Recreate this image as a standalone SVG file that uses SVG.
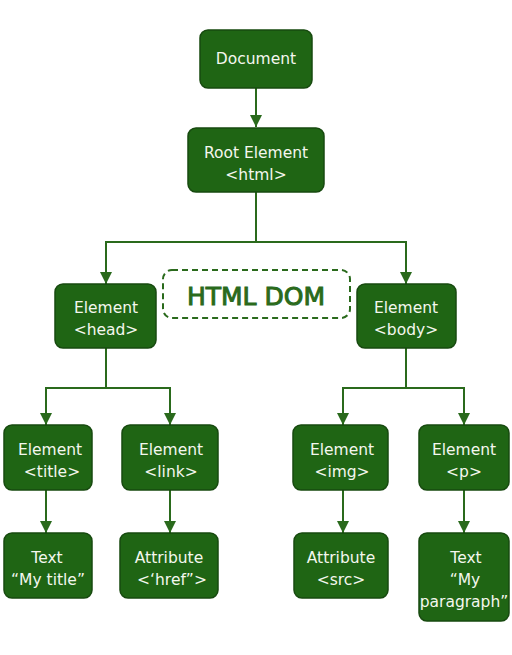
<svg xmlns="http://www.w3.org/2000/svg" width="512" height="655" viewBox="0 0 512 655">
<style>
.n rect{fill:#1f6514;stroke:#17490f;stroke-width:1.5}
.n text{fill:#f4f7ee;font-family:"DejaVu Sans",Verdana,sans-serif;font-size:15.5px;text-anchor:middle}
.c{fill:none;stroke:#2a6a1c;stroke-width:2}
</style>
<defs>
<marker id="ah" viewBox="0 0 10 10" refX="10" refY="5" markerWidth="12" markerHeight="12" markerUnits="userSpaceOnUse" orient="auto">
<path d="M0,0 L10,5 L0,10 z" fill="#2a6a1c"/>
</marker>
</defs>
<rect width="512" height="655" fill="#fff"/>
<g id="connectors">
<path class="c" d="M256,88 V127" marker-end="url(#ah)"/>
<path class="c" d="M256,192 V242 H106 V284" marker-end="url(#ah)"/>
<path class="c" d="M256,242 H406 V284" marker-end="url(#ah)"/>
<path class="c" d="M106,348 V388 H46 V425" marker-end="url(#ah)"/>
<path class="c" d="M106,388 H170 V425" marker-end="url(#ah)"/>
<path class="c" d="M406,348 V388 H343 V425" marker-end="url(#ah)"/>
<path class="c" d="M406,388 H464 V425" marker-end="url(#ah)"/>
<path class="c" d="M46,490 V533" marker-end="url(#ah)"/>
<path class="c" d="M170,490 V533" marker-end="url(#ah)"/>
<path class="c" d="M343,490 V533" marker-end="url(#ah)"/>
<path class="c" d="M464,490 V533" marker-end="url(#ah)"/>
</g>
<g id="label-htmldom">
<rect x="163" y="270" width="187" height="48" rx="9" fill="none" stroke="#2a6a1c" stroke-width="2" stroke-dasharray="6,4"/>
<text x="256" y="305" fill="#2a6a1c" font-family="DejaVu Sans,Verdana,sans-serif" font-size="25" text-anchor="middle" stroke="#2a6a1c" stroke-width="1">HTML DOM</text>
</g>
<g id="document" class="n"><rect x="200" y="30" width="112" height="58" rx="8"/><text x="256" y="64">Document</text></g>
<g id="root" class="n"><rect x="188" y="128" width="136" height="64" rx="8"/><text x="256" y="158">Root Element</text><text x="256" y="180">&lt;html&gt;</text></g>
<g id="head" class="n"><rect x="55" y="284" width="101" height="64" rx="8"/><text x="106" y="313">Element</text><text x="106" y="335">&lt;head&gt;</text></g>
<g id="body" class="n"><rect x="357" y="284" width="99" height="64" rx="8"/><text x="406" y="313">Element</text><text x="406" y="335">&lt;body&gt;</text></g>
<g id="title" class="n"><rect x="4" y="425" width="88" height="65" rx="8"/><text x="50" y="455">Element</text><text x="52" y="477">&lt;title&gt;</text></g>
<g id="link" class="n"><rect x="122" y="425" width="96" height="65" rx="8"/><text x="171" y="455">Element</text><text x="171" y="477">&lt;link&gt;</text></g>
<g id="img" class="n"><rect x="293" y="425" width="95" height="65" rx="8"/><text x="342" y="455">Element</text><text x="342" y="477">&lt;img&gt;</text></g>
<g id="p" class="n"><rect x="419" y="425" width="90" height="65" rx="8"/><text x="464" y="455">Element</text><text x="464" y="477">&lt;p&gt;</text></g>
<g id="text-title" class="n"><rect x="4" y="533" width="88" height="65" rx="8"/><text x="47" y="563">Text</text><text x="48" y="585">“My title”</text></g>
<g id="attr-href" class="n"><rect x="120" y="533" width="98" height="65" rx="8"/><text x="169" y="563">Attribute</text><text x="172" y="585">&lt;‘href”&gt;</text></g>
<g id="attr-src" class="n"><rect x="294" y="533" width="94" height="65" rx="8"/><text x="341" y="563">Attribute</text><text x="341" y="585">&lt;src&gt;</text></g>
<g id="text-p" class="n"><rect x="419" y="533" width="90" height="88" rx="8"/><text x="466" y="563">Text</text><text x="465" y="585">“My</text><text x="464" y="607">paragraph”</text></g>
</svg>
